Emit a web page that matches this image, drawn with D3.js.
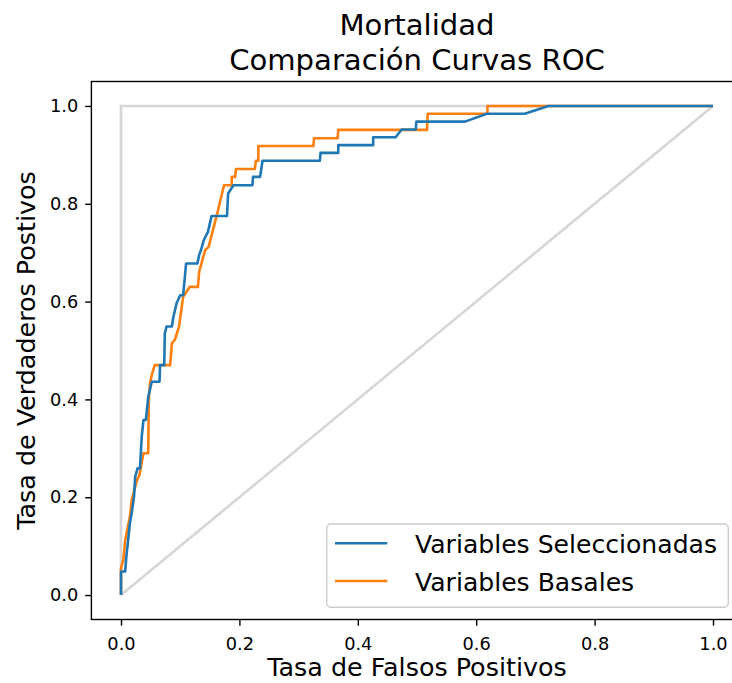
<!DOCTYPE html>
<html>
<head>
<meta charset="utf-8">
<script src="https://cdn.jsdelivr.net/npm/d3@7"></script>
<style>
  body { margin: 0; background: #fff; }
  text { font-family: "DejaVu Sans", sans-serif; fill: #000; }
</style>
</head>
<body>
<div id="chart"></div>
<script>
//============== data ===============//

const titleLines = ["Mortalidad", "Comparación Curvas ROC"]
const xLabel = "Tasa de Falsos Positivos"
const yLabel = "Tasa de Verdaderos Postivos"
const tickValues = [0, 0.2, 0.4, 0.6, 0.8, 1.0]
const seriesNames = ["Variables Seleccionadas", "Variables Basales"]

// Variables Seleccionadas (fpr, tpr)
const fprSel = [0.000, 0.000, 0.007, 0.009, 0.012, 0.015, 0.018, 0.022, 0.024, 0.028, 0.032, 0.033, 0.035, 0.038,
  0.042, 0.046, 0.052, 0.065, 0.066, 0.073, 0.074, 0.077, 0.086, 0.088, 0.094, 0.100, 0.105, 0.110, 0.129,
  0.132, 0.135, 0.140, 0.147, 0.153, 0.179, 0.181, 0.190, 0.222, 0.223, 0.235, 0.239, 0.336, 0.337, 0.367,
  0.367, 0.426, 0.426, 0.464, 0.474, 0.498, 0.499, 0.581, 0.618, 0.682, 0.722, 1.000]
const tprSel = [0.000, 0.048, 0.048, 0.078, 0.112, 0.147, 0.167, 0.201, 0.242, 0.259, 0.259, 0.280, 0.324, 0.358,
  0.358, 0.405, 0.436, 0.436, 0.470, 0.470, 0.535, 0.549, 0.549, 0.566, 0.597, 0.613, 0.613, 0.678, 0.678,
  0.695, 0.705, 0.726, 0.743, 0.775, 0.775, 0.821, 0.838, 0.838, 0.855, 0.855, 0.888, 0.888, 0.904, 0.904,
  0.920, 0.920, 0.936, 0.936, 0.952, 0.952, 0.968, 0.968, 0.984, 0.984, 1.000, 1.000]

// Variables Basales (fpr, tpr)
const fprBas = [0.000, 0.000, 0.004, 0.007, 0.015, 0.018, 0.027, 0.031, 0.038, 0.046, 0.047, 0.049, 0.052, 0.057,
  0.083, 0.086, 0.091, 0.098, 0.105, 0.116, 0.130, 0.132, 0.136, 0.142, 0.148, 0.164, 0.170, 0.174, 0.187,
  0.187, 0.193, 0.194, 0.226, 0.228, 0.232, 0.232, 0.325, 0.326, 0.366, 0.367, 0.517, 0.518, 0.619, 0.619, 1.000]
const tprBas = [0.000, 0.055, 0.072, 0.112, 0.160, 0.194, 0.235, 0.245, 0.290, 0.290, 0.400, 0.433, 0.450, 0.470,
  0.470, 0.515, 0.522, 0.549, 0.610, 0.630, 0.630, 0.661, 0.678, 0.705, 0.712, 0.787, 0.818, 0.838, 0.838,
  0.855, 0.855, 0.871, 0.871, 0.888, 0.888, 0.918, 0.918, 0.934, 0.934, 0.951, 0.951, 0.984, 0.984, 1.000, 1.000]

// reference lines
const diagX = [0, 1], diagY = [0, 1]
const perfX = [0, 0, 1], perfY = [0, 1, 1]

//============== env ===============//

const W = 732, H = 683
const box = {left: 91.4, right: 742.6, top: 81.5, bottom: 619.5}
const blue = "#1f77b4", orange = "#ff7f0e", grey = "#d6d6d6"

const svg = d3.select("#chart").append("svg")
  .attr("width", W)
  .attr("height", H)

const x = d3.scaleLinear().domain([-0.05, 1.05]).range([box.left, box.right])
const y = d3.scaleLinear().domain([-0.05, 1.05]).range([box.bottom, box.top])

const line = d3.line().x(d => x(d[0])).y(d => y(d[1]))
const zip = (a, b) => a.map((v, i) => [v, b[i]])

// reference lines first
svg.append("path").attr("d", line(zip(perfX, perfY)))
  .attr("fill", "none").attr("stroke", grey).attr("stroke-width", 2.6)
svg.append("path").attr("d", line(zip(diagX, diagY)))
  .attr("fill", "none").attr("stroke", grey).attr("stroke-width", 2.6)

// curves: basal below, seleccionadas on top
svg.append("path").attr("d", line(zip(fprBas, tprBas)))
  .attr("fill", "none").attr("stroke", orange).attr("stroke-width", 2.6)
  .attr("stroke-linejoin", "round")
svg.append("path").attr("d", line(zip(fprSel, tprSel)))
  .attr("fill", "none").attr("stroke", blue).attr("stroke-width", 2.6)
  .attr("stroke-linejoin", "round")

// axes
svg.append("g")
  .attr("transform", `translate(0,${box.bottom})`)
  .call(d3.axisBottom(x).tickValues(tickValues).tickFormat(d3.format(".1f")).tickSize(6.2).tickPadding(11.7))
svg.append("g")
  .attr("transform", `translate(${box.left},0)`)
  .call(d3.axisLeft(y).tickValues(tickValues).tickFormat(d3.format(".1f")).tickSize(6.2).tickPadding(6.9))

svg.selectAll(".domain").remove()
svg.selectAll(".tick line").attr("stroke", "#000").attr("stroke-width", 1.4)
svg.selectAll(".tick text")
  .style("font-family", "DejaVu Sans")
  .style("font-size", "17.8px")
  .attr("fill", "#000")

// frame
svg.append("rect")
  .attr("x", box.left).attr("y", box.top)
  .attr("width", box.right - box.left).attr("height", box.bottom - box.top)
  .attr("fill", "none").attr("stroke", "#000").attr("stroke-width", 1.4)

// title
svg.selectAll("myTitle")
  .data(titleLines)
  .join("text")
    .attr("x", (box.left + box.right) / 2)
    .attr("y", (d, i) => 35 + i * 35)
    .attr("text-anchor", "middle")
    .style("font-size", "29.1px")
    .text(d => d)

// axis labels
svg.append("text")
  .attr("x", (box.left + box.right) / 2)
  .attr("y", 676)
  .attr("text-anchor", "middle")
  .style("font-size", "25.4px")
  .text(xLabel)

svg.append("text")
  .attr("transform", `translate(35,${(box.top + box.bottom) / 2}) rotate(-90)`)
  .attr("text-anchor", "middle")
  .style("font-size", "25.4px")
  .text(yLabel)

// legend
const legend = svg.append("g")
legend.append("rect")
  .attr("x", 326.7).attr("y", 524)
  .attr("width", 401.6).attr("height", 83.3)
  .attr("rx", 4)
  .attr("fill", "#fff").attr("fill-opacity", 0.8)
  .attr("stroke", "#cccccc").attr("stroke-width", 1.4)

legend.selectAll("myLegend")
  .data(seriesNames)
  .join("g")
    .attr("transform", (d, i) => `translate(0,${543.3 + i * 37.7})`)
    .each(function(d, i) {
      const g = d3.select(this)
      g.append("line")
        .attr("x1", 335).attr("x2", 387.3)
        .attr("stroke", i === 0 ? blue : orange)
        .attr("stroke-width", 2.6)
      g.append("text")
        .attr("x", 415)
        .attr("y", 10)
        .style("font-size", "25.1px")
        .text(d)
    })
</script>
</body>
</html>
